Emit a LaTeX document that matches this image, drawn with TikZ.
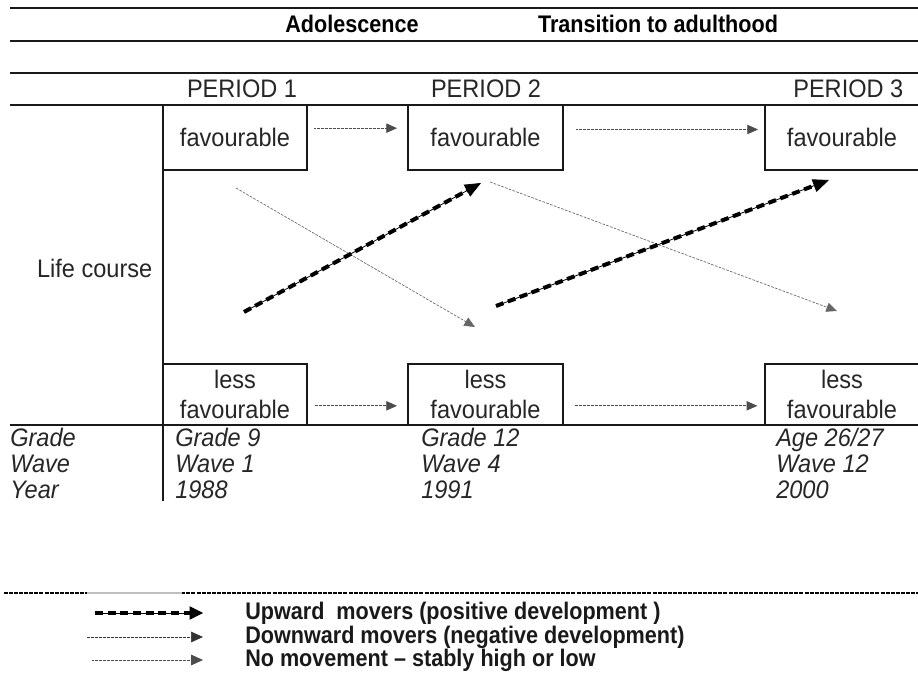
\documentclass[tikz,border=0pt]{standalone}
\usepackage{fontspec}
\setmainfont{Liberation Sans}
\newfontfamily\bodyf[FakeStretch=0.93]{Liberation Sans}
\newfontfamily\condb[FakeStretch=0.9]{Liberation Sans}
\usetikzlibrary{arrows.meta}
\begin{document}
\begin{tikzpicture}[x=0.75pt,y=-0.75pt,
  every node/.style={font=\fontsize{19}{22.5}\selectfont\bodyf, text=black!85},
  hdr/.style={font=\fontsize{18}{22}\selectfont\condb\bfseries, text=black},
  rule/.style={line width=1.5pt, draw=black!90},
  box/.style={draw=black!90, line width=1.5pt, inner sep=0pt, align=center},
  topbox/.style={box, minimum height=48.75pt},
  lowbox/.style={box, minimum height=45.75pt},
  row/.style={anchor=base west, font=\fontsize{19}{22}\selectfont\bodyf\itshape, inner sep=0pt},
  stable/.style={draw=black!70, line width=0.6pt, dash pattern=on 0.6pt off 0.4pt, -{Triangle[length=8pt,width=7pt]}},
  down/.style={draw=black!60, line width=0.5pt, dash pattern=on 2pt off 1pt, -{Triangle[length=8pt,width=7pt]}},
  upthin/.style={draw=black, line width=0.6pt, -{Triangle[length=12pt,width=10pt]}},
  upthick/.style={draw=black, line width=3pt, dash pattern=on 6pt off 3.5pt, shorten >=11pt},
  legtxt/.style={anchor=west, font=\fontsize{18}{22}\selectfont\condb\bfseries, text=black!90, inner sep=0pt}
]
\useasboundingbox (0,0) rectangle (918,684);

% rules
\draw[rule] (10,8) -- (918,8);
\draw[rule] (10,41) -- (918,41);
\draw[rule] (10,73) -- (918,73);
\draw[rule] (10,105) -- (918,105);
\draw[rule] (10,425) -- (918,425);
\draw[rule] (163,105) -- (163,501);

% headers
\node[hdr] (adol) at (352,24) {Adolescence};
\node[hdr] (trans) at (658,24) {Transition to adulthood};
\node (p1) at (242,89) {PERIOD 1};
\node (p2) at (486,89) {PERIOD 2};
\node[anchor=east] (p3) at (908,89) {PERIOD 3};

% boxes
\node[topbox, minimum width=108pt] (f1) at (235,137.5) {favourable};
\node[topbox, minimum width=116.25pt] (f2) at (485.5,137.5) {favourable};
\node[topbox, minimum width=115.5pt] (f3) at (842,137.5) {favourable};
\node[lowbox, minimum width=108pt] (l1) at (235,394.5) {less\\favourable};
\node[lowbox, minimum width=116.25pt] (l2) at (485.5,394.5) {less\\favourable};
\node[lowbox, minimum width=115.5pt] (l3) at (842,394.5) {less\\favourable};

\node[anchor=east] (lc) at (157,268) {Life course};

% stable arrows
\draw[stable] ([xshift=4.5pt,yshift=7pt]f1.east) -- ([xshift=-7.5pt,yshift=7pt]f2.west);
\draw[stable] ([xshift=9pt,yshift=6pt]f2.east) -- ([xshift=-4.5pt,yshift=6pt]f3.west);
\draw[stable] ([xshift=5pt,yshift=-8.5pt]l1.east) -- ([xshift=-7.5pt,yshift=-8.5pt]l2.west);
\draw[stable] ([xshift=8pt,yshift=-8.5pt]l2.east) -- ([xshift=-5pt,yshift=-8.5pt]l3.west);

% diagonal coordinates
\coordinate (d1s) at (236,188);
\coordinate (d1e) at (475,327);
\coordinate (d2s) at (490,182);
\coordinate (d2e) at (837,311);
\coordinate (u1s) at (244,312);
\coordinate (u1e) at (481,183);
\coordinate (u2s) at (496,306);
\coordinate (u2e) at (829,180);

\draw[down] (d1s) -- (d1e);
\draw[down] (d2s) -- (d2e);
\draw[upthick] (u1s) -- (u1e);
\draw[upthin] (u1s) -- (u1e);
\draw[upthick] (u2s) -- (u2e);
\draw[upthin] (u2s) -- (u2e);

% table rows
\node[row] (gl) at (10,446) {Grade};
\node[row] (wl) at (10,472) {Wave};
\node[row] (yl) at (10,498) {Year};
\node[row] (g1) at (175,446) {Grade 9};
\node[row] (w1) at (175,472) {Wave 1};
\node[row] (y1) at (175,498) {1988};
\node[row] (g2) at (421,446) {Grade 12};
\node[row] (w2) at (421,472) {Wave 4};
\node[row] (y2) at (421,498) {1991};
\node[row] (g3) at (776,446) {Age 26/27};
\node[row] (w3) at (776,472) {Wave 12};
\node[row] (y3) at (776,498) {2000};

% legend
\draw[line width=1.2pt, draw=black, dash pattern=on 3pt off 0.8pt] (4,593) -- (918,593);
\draw[line width=1.4pt, draw=black!25] (87,593) -- (182,593);

\coordinate (a1s) at (95,613);  \coordinate (a1e) at (203,613);
\coordinate (a2s) at (87,637);  \coordinate (a2e) at (203,637);
\coordinate (a3s) at (92,660);  \coordinate (a3e) at (203,660);
\draw[upthick, shorten >=9pt] (a1s) -- (a1e);
\draw[draw=black, line width=0.6pt, -{Triangle[length=10pt,width=10pt]}] (a1s) -- (a1e);
\draw[down, draw=black!80, -{Triangle[length=9pt,width=8pt]}] (a2s) -- (a2e);
\draw[stable, -{Triangle[length=9pt,width=8pt]}] (a3s) -- (a3e);
\node[legtxt] (t1) at (245,613) {Upward~ movers (positive development )};
\node[legtxt] (t2) at (245,637) {Downward movers (negative development)};
\node[legtxt] (t3) at (245,660) {No movement – stably high or low};
\end{tikzpicture}
\end{document}
